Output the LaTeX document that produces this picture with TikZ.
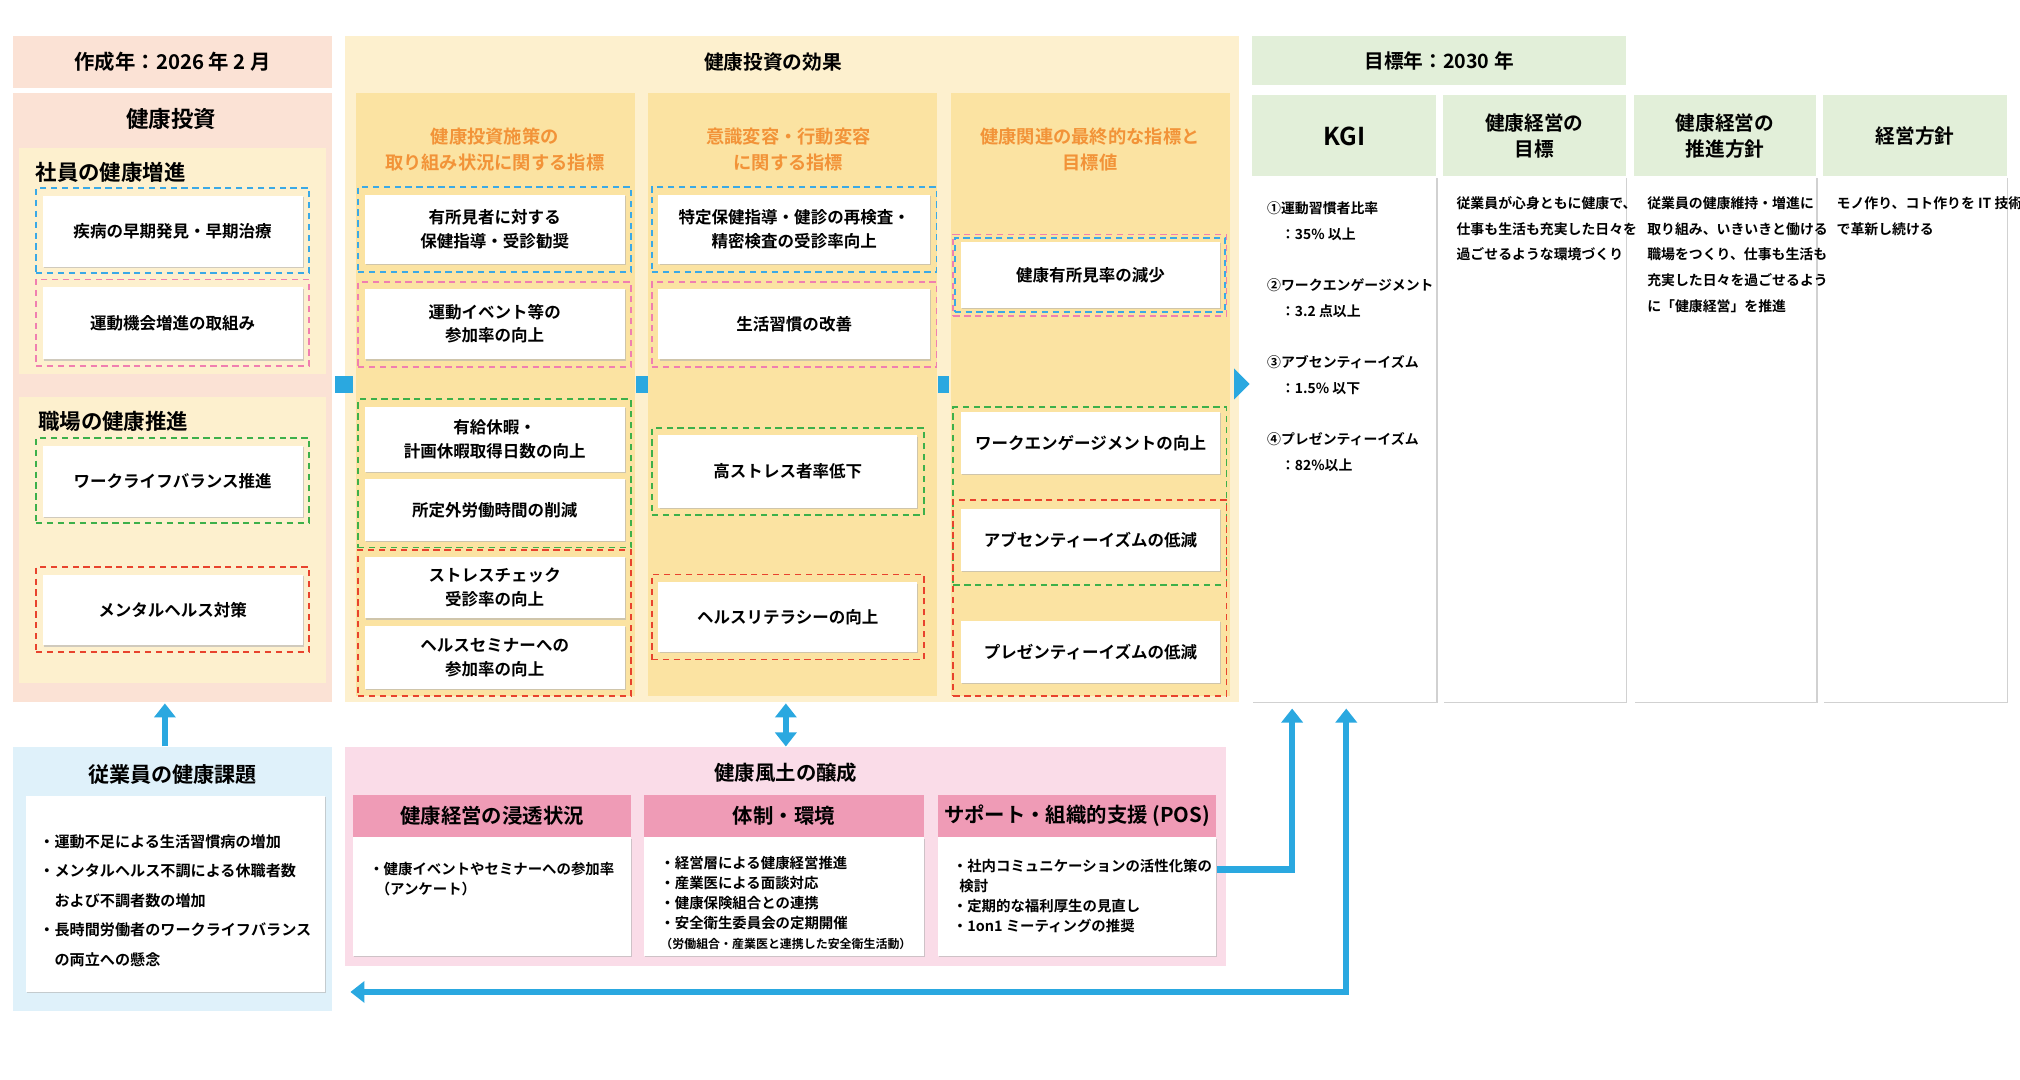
\documentclass[tikz,border=0pt]{standalone}
\usepackage{fontspec}
\setmainfont{Noto Sans CJK JP}[BoldFont={Noto Sans CJK JP Bold}]
\usetikzlibrary{arrows.meta,shadows}
\def\px{0.1288mm}
\definecolor{peach}{HTML}{FBE2D5}
\definecolor{cream}{HTML}{FDF0CE}
\definecolor{gold}{HTML}{FBE3A2}
\definecolor{mint}{HTML}{E2EFD9}
\definecolor{sky}{HTML}{DFF1FA}
\definecolor{rose}{HTML}{FADCE8}
\definecolor{rosedeep}{HTML}{EF9BB6}
\definecolor{flow}{HTML}{2AA8E0}
\definecolor{dblue}{HTML}{3AA9E6}
\definecolor{dpink}{HTML}{F07FB0}
\definecolor{dgreen}{HTML}{3DB04A}
\definecolor{dred}{HTML}{E8432D}
\definecolor{orangetx}{HTML}{F29338}
\tikzset{
  fs/.style={font=\bfseries\fontsize{4.7}{6.6}\selectfont},
  small/.style={anchor=north west, align=left, font=\bfseries\fontsize{3.95}{7.3}\selectfont},
  panel/.style={draw=none, inner sep=0pt},
  wbox/.style={fill=white, inner sep=0pt, align=center, fs,
    drop shadow={shadow xshift=0.35pt, shadow yshift=-0.35pt, fill=black!30, opacity=0.6}},
  dbox/.style={draw=#1, line width=0.5pt, dash pattern=on 1.8pt off 1.3pt, inner sep=0pt},
  flowline/.style={draw=flow, line width=1.8pt},
  tip/.style={-{Triangle[length=4pt,width=6pt]}},
}
% box spanning (x1,y1)-(x2,y2) in reference pixels
\newcommand\bx[7]{\node[#6, minimum width={(#4-#2)*\px}, minimum height={(#5-#3)*\px}] (#1) at ({(#2+#4)/2},{(#3+#5)/2}) {#7};}
\begin{document}
\begin{tikzpicture}[x=\px, y=-\px]
\useasboundingbox (0,0) rectangle (1568,838);

% left side: investment
\bx{made}{10}{28}{258}{68}{panel, fill=peach, font=\bfseries\fontsize{5.8}{7}\selectfont}{作成年：2026 年 2 月}
\bx{inv}{10}{72}{258}{545}{panel, fill=peach}{}
\node[font=\bfseries\fontsize{6.4}{7}\selectfont] at (133,92) {健康投資};
\bx{staff}{15}{115}{253}{290}{panel, fill=cream}{}
\node[anchor=west, font=\bfseries\fontsize{6.1}{7}\selectfont] at (18,134) {社員の健康増進};
\bx{work}{15}{308}{253}{530}{panel, fill=cream}{}
\node[anchor=west, font=\bfseries\fontsize{6.1}{7}\selectfont] at (20,327) {職場の健康推進};
\bx{d1}{28}{146}{240}{212}{dbox=dblue}{}
\bx{d2}{28}{217}{240}{284}{dbox=dpink}{}
\bx{d3}{28}{340}{240}{406}{dbox=dgreen}{}
\bx{d4}{28}{440}{240}{506}{dbox=dred}{}
\bx{i1}{33}{152}{235}{207}{wbox}{疾病の早期発見・早期治療}
\bx{i2}{33}{223}{235}{279}{wbox}{運動機会増進の取組み}
\bx{i3}{33}{346}{235}{401}{wbox}{ワークライフバランス推進}
\bx{i4}{33}{446}{235}{501}{wbox}{メンタルヘルス対策}

% effects
\bx{eff}{268}{28}{962}{545}{panel, fill=cream}{}
\node[font=\bfseries\fontsize{5.6}{7}\selectfont] at (600,48) {健康投資の効果};
\bx{c1}{276}{72}{493}{540}{panel, fill=gold}{}
\bx{c2}{503}{72}{727}{540}{panel, fill=gold}{}
\bx{c3}{738}{72}{955}{540}{panel, fill=gold}{}
\node[text=orangetx, align=center, font=\bfseries\fontsize{5.2}{7.3}\selectfont] at (384,116) {健康投資施策の\\取り組み状況に関する指標};
\node[text=orangetx, align=center, font=\bfseries\fontsize{5.2}{7.3}\selectfont] at (612,116) {意識変容・行動変容\\に関する指標};
\node[text=orangetx, align=center, font=\bfseries\fontsize{5.2}{7.3}\selectfont] at (846,116) {健康関連の最終的な指標と\\目標値};

\bx{e1d}{278}{145}{490}{211}{dbox=dblue}{}
\bx{e2d}{278}{219}{490}{285}{dbox=dpink}{}
\bx{e3d}{278}{310}{490}{425}{dbox=dgreen}{}
\bx{e4d}{278}{427}{490}{540}{dbox=dred}{}
\bx{e1}{283}{151}{485}{205}{wbox}{有所見者に対する\\保健指導・受診勧奨}
\bx{e2}{283}{224}{485}{279}{wbox}{運動イベント等の\\参加率の向上}
\bx{e3}{283}{316}{485}{366}{wbox}{有給休暇・\\計画休暇取得日数の向上}
\bx{e4}{283}{372}{485}{420}{wbox}{所定外労働時間の削減}
\bx{e5}{283}{432}{485}{480}{wbox}{ストレスチェック\\受診率の向上}
\bx{e6}{283}{486}{485}{535}{wbox}{ヘルスセミナーへの\\参加率の向上}

\bx{f1d}{506}{145}{727}{211}{dbox=dblue}{}
\bx{f2d}{506}{219}{727}{285}{dbox=dpink}{}
\bx{f3d}{506}{332}{717}{400}{dbox=dgreen}{}
\bx{f4d}{506}{446}{717}{512}{dbox=dred}{}
\bx{f1}{511}{151}{722}{205}{wbox}{特定保健指導・健診の再検査・\\精密検査の受診率向上}
\bx{f2}{511}{224}{722}{279}{wbox}{生活習慣の改善}
\bx{f3}{511}{338}{712}{394}{wbox}{高ストレス者率低下}
\bx{f4}{511}{452}{712}{506}{wbox}{ヘルスリテラシーの向上}

\bx{g1d}{740}{182}{952}{245}{dbox=dpink}{}
\bx{g1e}{741}{185}{951}{242}{dbox=dblue}{}
\bx{g2d}{740}{316}{952}{454}{dbox=dgreen}{}
\bx{g3d}{740}{388}{952}{540}{dbox=dred}{}
\bx{g1}{746}{188}{947}{239}{wbox}{健康有所見率の減少}
\bx{g2}{746}{320}{947}{368}{wbox}{ワークエンゲージメントの向上}
\bx{g3}{746}{395}{947}{443}{wbox}{アブセンティーイズムの低減}
\bx{g4}{746}{482}{947}{530}{wbox}{プレゼンティーイズムの低減}

% connectors between columns
\bx{s1}{260}{292}{274}{305}{panel, fill=flow}{}
\bx{s2}{494}{292}{503}{305}{panel, fill=flow}{}
\bx{s3}{728}{292}{737}{305}{panel, fill=flow}{}
\fill[flow] (958,286) -- (970,298) -- (958,310) -- cycle;

% goals
\bx{goal}{972}{28}{1262}{66}{panel, fill=mint, font=\bfseries\fontsize{5.6}{7}\selectfont}{目標年：2030 年}
\foreach \n/\a/\b/\t in {k1/972/1115/{\fontsize{7}{8}\selectfont KGI},k2/1120/1262/{健康経営の\\目標},k3/1268/1410/{健康経営の\\推進方針},k4/1415/1558/{経営方針}}{
  \bx{\n b}{\a}{137}{\b}{545}{wbox}{}
  \bx{\n}{\a}{74}{\b}{137}{panel, fill=mint, align=center, font=\bfseries\fontsize{5.6}{7.3}\selectfont}{\t}
}
\node[small] at (974,147)
  {①運動習慣者比率\\\quad ：35\% 以上\\[7.3pt]②ワークエンゲージメント\\\quad ：3.2 点以上\\[7.3pt]③アブセンティーイズム\\\quad ：1.5\% 以下\\[7.3pt]④プレゼンティーイズム\\\quad ：82\%以上};
\node[small] at (1121,143)
  {従業員が心身ともに健康で、\\仕事も生活も充実した日々を\\過ごせるような環境づくり};
\node[small] at (1269,143)
  {従業員の健康維持・増進に\\取り組み、いきいきと働ける\\職場をつくり、仕事も生活も\\充実した日々を過ごせるよう\\に「健康経営」を推進};
\node[small] at (1416,143)
  {モノ作り、コト作りを IT 技術\\で革新し続ける};

% bottom: issues
\bx{iss}{10}{580}{258}{785}{panel, fill=sky}{}
\node[font=\bfseries\fontsize{6}{7}\selectfont] at (134,601) {従業員の健康課題};
\bx{issb}{20}{618}{252}{770}{wbox}{}
\node[anchor=north west, align=left, font=\bfseries\fontsize{4.3}{8.4}\selectfont] at (21,638)
  {・運動不足による生活習慣病の増加\\・メンタルヘルス不調による休職者数\\\quad および不調者数の増加\\・長時間労働者のワークライフバランス\\\quad の両立への懸念};

% bottom: culture
\bx{cul}{268}{580}{952}{750}{panel, fill=rose}{}
\node[font=\bfseries\fontsize{5.8}{7}\selectfont] at (610,600) {健康風土の醸成};
\foreach \n/\a/\b/\t in {h1/274/490/健康経営の浸透状況,h2/500/717/体制・環境,h3/728/944/サポート・組織的支援 (POS)}{
  \bx{\n b}{\a}{650}{\b}{742}{wbox}{}
  \bx{\n}{\a}{617}{\b}{650}{panel, fill=rosedeep, font=\bfseries\fontsize{5.8}{7}\selectfont}{\t}
}
\node[anchor=north west, align=left, font=\bfseries\fontsize{4.1}{5.7}\selectfont] at (277,660)
  {・健康イベントやセミナーへの参加率\\\ \ （アンケート）};
\node[anchor=north west, align=left, font=\bfseries\fontsize{4.1}{5.7}\selectfont] at (503,655)
  {・経営層による健康経営推進\\・産業医による面談対応\\・健康保険組合との連携\\・安全衛生委員会の定期開催\\{\fontsize{3.4}{5.7}\selectfont （労働組合・産業医と連携した安全衛生活動）}};
\node[anchor=north west, align=left, font=\bfseries\fontsize{4.1}{5.7}\selectfont] at (730,657)
  {・社内コミュニケーションの活性化策の\\\ \ 検討\\・定期的な福利厚生の見直し\\・1on1 ミーティングの推奨};

% flows
\draw[flowline, tip] (iss.north -| 128,0) -- (128,546);
\draw[flowline, {Triangle[length=4pt,width=6pt]}-{Triangle[length=4pt,width=6pt]}] (610,546) -- (cul.north -| 610,0);
\draw[flowline, tip] (h3b.east |- 0,675) -- (1003,675) -- (1003,550);
\draw[flowline, {Triangle[length=4pt,width=6pt]}-{Triangle[length=4pt,width=6pt]}] (1045,550) -- (1045,770) -- (272,770);
\end{tikzpicture}
\end{document}
